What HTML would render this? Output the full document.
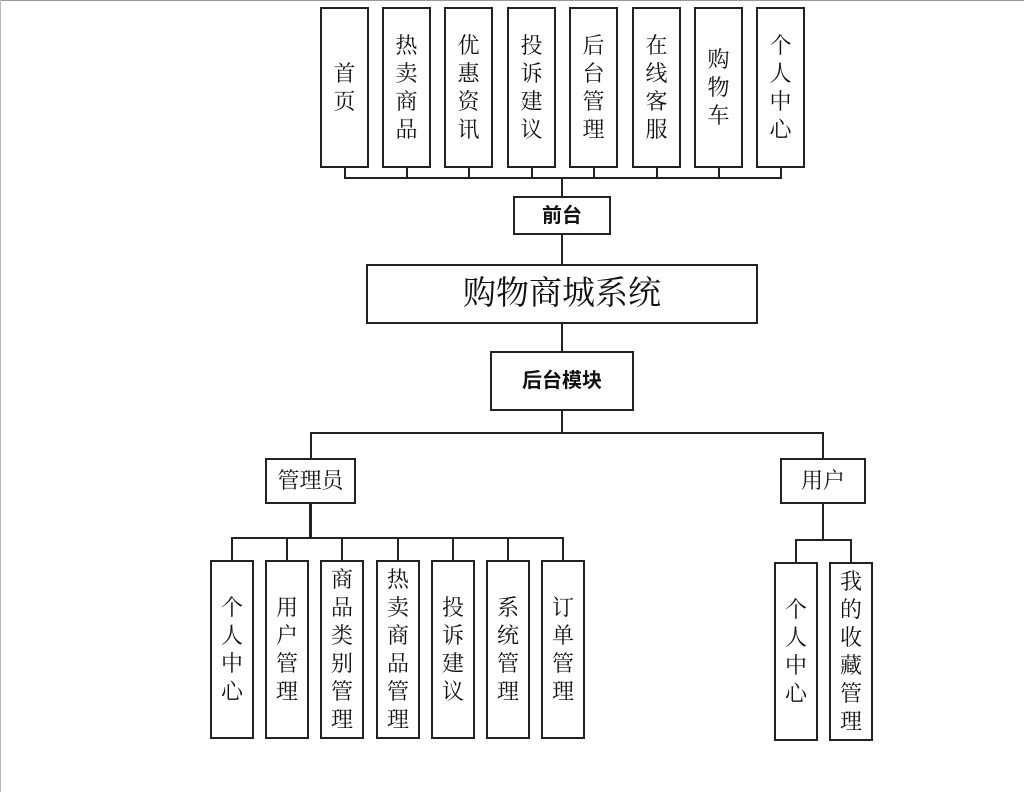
<!DOCTYPE html>
<html><head><meta charset="utf-8"><style>
body{margin:0;width:1024px;height:792px;background:#fff;position:relative;overflow:hidden;font-family:"Liberation Serif","Noto Serif CJK SC",serif;}
.b{position:absolute;box-sizing:border-box;border:2px solid #222;background:#fff;display:flex;align-items:center;justify-content:center;text-align:center;color:#111;font-size:22px;line-height:28px;}
.l{position:absolute;background:#222;}
.s{font-family:"Liberation Sans","Noto Sans CJK SC",sans-serif;font-weight:bold;}
</style></head><body>
<div class="l" style="left:0;top:0;width:1024px;height:1px;background:#999"></div>
<div class="l" style="left:0;top:0;width:1px;height:792px;background:#bbb"></div>

<div class="l" style="left:344px;top:177px;width:438px;height:2px"></div>
<div class="l" style="left:344px;top:166px;width:2px;height:12px"></div>
<div class="l" style="left:406px;top:166px;width:2px;height:12px"></div>
<div class="l" style="left:468px;top:166px;width:2px;height:12px"></div>
<div class="l" style="left:531px;top:166px;width:2px;height:12px"></div>
<div class="l" style="left:593px;top:166px;width:2px;height:12px"></div>
<div class="l" style="left:656px;top:166px;width:2px;height:12px"></div>
<div class="l" style="left:718px;top:166px;width:2px;height:12px"></div>
<div class="l" style="left:780px;top:166px;width:2px;height:12px"></div>
<div class="l" style="left:561px;top:177px;width:2px;height:256px"></div>

<div class="b" style="left:320px;top:7px;width:49px;height:161px">首<br>页</div>
<div class="b" style="left:382px;top:7px;width:49px;height:161px">热<br>卖<br>商<br>品</div>
<div class="b" style="left:444px;top:7px;width:49px;height:161px">优<br>惠<br>资<br>讯</div>
<div class="b" style="left:507px;top:7px;width:49px;height:161px">投<br>诉<br>建<br>议</div>
<div class="b" style="left:569px;top:7px;width:49px;height:161px">后<br>台<br>管<br>理</div>
<div class="b" style="left:632px;top:7px;width:49px;height:161px">在<br>线<br>客<br>服</div>
<div class="b" style="left:694px;top:7px;width:49px;height:161px">购<br>物<br>车</div>
<div class="b" style="left:756px;top:7px;width:49px;height:161px">个<br>人<br>中<br>心</div>

<div class="b s" style="left:513px;top:196px;width:98px;height:39px;font-size:20px">前台</div>
<div class="b" style="left:366px;top:264px;width:392px;height:60px;font-size:33px">购物商城系统</div>
<div class="b s" style="left:490px;top:351px;width:144px;height:60px;font-size:20px">后台模块</div>

<div class="l" style="left:310px;top:432px;width:514px;height:2px"></div>
<div class="l" style="left:310px;top:432px;width:2px;height:27px"></div>
<div class="l" style="left:822px;top:432px;width:2px;height:27px"></div>

<div class="b" style="left:265px;top:458px;width:91px;height:46px">管理员</div>
<div class="b" style="left:780px;top:458px;width:86px;height:46px">用户</div>

<div class="l" style="left:309px;top:503px;width:3px;height:36px"></div>
<div class="l" style="left:231px;top:537px;width:333px;height:2px"></div>
<div class="l" style="left:231px;top:537px;width:2px;height:24px"></div>
<div class="l" style="left:286px;top:537px;width:2px;height:24px"></div>
<div class="l" style="left:341px;top:537px;width:2px;height:24px"></div>
<div class="l" style="left:397px;top:537px;width:2px;height:24px"></div>
<div class="l" style="left:452px;top:537px;width:2px;height:24px"></div>
<div class="l" style="left:507px;top:537px;width:2px;height:24px"></div>
<div class="l" style="left:562px;top:537px;width:2px;height:24px"></div>

<div class="b" style="left:210px;top:560px;width:44px;height:179px">个<br>人<br>中<br>心</div>
<div class="b" style="left:265px;top:560px;width:44px;height:179px">用<br>户<br>管<br>理</div>
<div class="b" style="left:320px;top:560px;width:44px;height:179px">商<br>品<br>类<br>别<br>管<br>理</div>
<div class="b" style="left:376px;top:560px;width:44px;height:179px">热<br>卖<br>商<br>品<br>管<br>理</div>
<div class="b" style="left:431px;top:560px;width:44px;height:179px">投<br>诉<br>建<br>议</div>
<div class="b" style="left:486px;top:560px;width:44px;height:179px">系<br>统<br>管<br>理</div>
<div class="b" style="left:541px;top:560px;width:44px;height:179px">订<br>单<br>管<br>理</div>

<div class="l" style="left:822px;top:503px;width:2px;height:37px"></div>
<div class="l" style="left:795px;top:539px;width:57px;height:2px"></div>
<div class="l" style="left:795px;top:539px;width:2px;height:24px"></div>
<div class="l" style="left:850px;top:539px;width:2px;height:24px"></div>

<div class="b" style="left:774px;top:562px;width:44px;height:179px">个<br>人<br>中<br>心</div>
<div class="b" style="left:829px;top:562px;width:44px;height:179px">我<br>的<br>收<br>藏<br>管<br>理</div>
</body></html>
